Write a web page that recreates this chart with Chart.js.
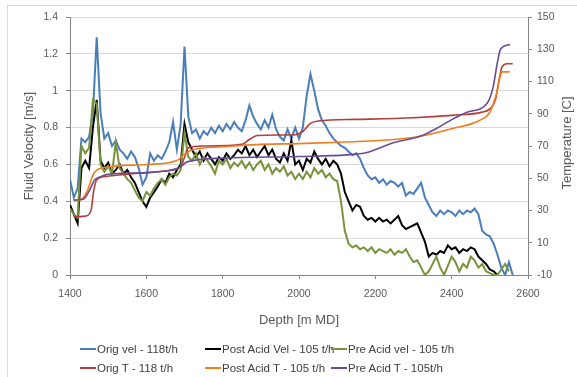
<!DOCTYPE html>
<html>
<head>
<meta charset="utf-8">
<script src="https://cdn.jsdelivr.net/npm/chart.js@4.4.0/dist/chart.umd.min.js"></script>
<style>
  body { margin: 0; background: #fff; }
  #wrap { position: relative; width: 577px; height: 377px; overflow: hidden; font-family: "Liberation Sans", Arial, sans-serif; }
  #frame { position: absolute; left: 7px; top: 5px; width: 600px; height: 400px; border-left: 1px solid #d9d9d9; border-top: 1px solid #d9d9d9; }
  canvas { position: absolute; left: 0; top: 0; }
  .leg { position: absolute; font-size: 11.5px; color: #404040; white-space: nowrap; line-height: 14px; }
  .leg i { display: inline-block; width: 16px; height: 2px; vertical-align: middle; margin-right: 1px; margin-top: -2px; }
</style>
</head>
<body>
<div id="wrap">
  <div id="frame"></div>
  <canvas id="chart" width="577" height="377"></canvas>
  <div id="legend"></div>
</div>
<script>
// velocity series share one depth grid, 10 m steps from 1400 to 2560
const velDepth = [];
for (let d = 1400; d <= 2560; d += 10) velDepth.push(d);

const origVel = [
  0.52, 0.42, 0.47, 0.74, 0.72, 0.75, 0.88, 1.29, 0.88, 0.74,
  0.77, 0.70, 0.73, 0.68, 0.66, 0.63, 0.67, 0.64, 0.58, 0.49,
  0.53, 0.66, 0.62, 0.65, 0.63, 0.67, 0.72, 0.83, 0.68, 0.82,
  1.24, 0.86, 0.77, 0.79, 0.74, 0.78, 0.76, 0.80, 0.77, 0.81,
  0.78, 0.82, 0.79, 0.83, 0.80, 0.78, 0.84, 0.92, 0.86, 0.82,
  0.79, 0.84, 0.80, 0.87, 0.79, 0.75, 0.73, 0.79, 0.74, 0.80,
  0.74, 0.80, 0.97, 1.09, 1.00, 0.90, 0.84, 0.81, 0.77, 0.74,
  0.72, 0.70, 0.69, 0.67, 0.65, 0.66, 0.63, 0.58, 0.54, 0.52,
  0.53, 0.50, 0.52, 0.49, 0.51, 0.50, 0.48, 0.50, 0.43, 0.45,
  0.44, 0.47, 0.50, 0.42, 0.38, 0.34, 0.32, 0.35, 0.33, 0.35,
  0.34, 0.32, 0.35, 0.33, 0.35, 0.34, 0.36, 0.33, 0.24, 0.22,
  0.21, 0.17, 0.11, 0.04, 0.00, 0.07, 0.00
];
const postVel = [
  0.38, 0.33, 0.28, 0.58, 0.62, 0.58, 0.80, 0.95, 0.62, 0.58,
  0.61, 0.55, 0.57, 0.60, 0.55, 0.57, 0.53, 0.50, 0.45, 0.40,
  0.37, 0.42, 0.45, 0.48, 0.52, 0.50, 0.55, 0.53, 0.57, 0.60,
  0.82, 0.72, 0.68, 0.64, 0.67, 0.62, 0.66, 0.63, 0.60, 0.64,
  0.62, 0.66, 0.63, 0.65, 0.68, 0.66, 0.70, 0.65, 0.68, 0.64,
  0.67, 0.70, 0.65, 0.68, 0.63, 0.61, 0.66, 0.62, 0.73, 0.60,
  0.62, 0.57, 0.63, 0.61, 0.67, 0.63, 0.60, 0.63, 0.59, 0.62,
  0.60, 0.55, 0.45, 0.40, 0.35, 0.38, 0.37, 0.32, 0.30, 0.31,
  0.29, 0.31, 0.29, 0.30, 0.28, 0.30, 0.32, 0.27, 0.25, 0.26,
  0.27, 0.28, 0.23, 0.18, 0.10, 0.12, 0.11, 0.13, 0.12, 0.16,
  0.14, 0.15, 0.12, 0.14, 0.13, 0.15, 0.14, 0.10, 0.08, 0.06,
  0.03, 0.02, 0.00, null, null, null, null
];
const preVel = [
  0.36, 0.33, 0.31, 0.70, 0.66, 0.69, 0.95, 0.93, 0.60, 0.56,
  0.59, 0.55, 0.72, 0.58, 0.55, 0.52, 0.50, 0.46, 0.42, 0.40,
  0.45, 0.43, 0.47, 0.50, 0.52, 0.49, 0.53, 0.55, 0.54, 0.57,
  0.77, 0.64, 0.62, 0.66, 0.60, 0.64, 0.62, 0.59, 0.55, 0.62,
  0.60, 0.63, 0.58, 0.61, 0.59, 0.62, 0.58, 0.61, 0.57, 0.60,
  0.62, 0.57, 0.60, 0.55, 0.58, 0.56, 0.59, 0.54, 0.56, 0.52,
  0.55, 0.52, 0.56, 0.53, 0.58, 0.55, 0.57, 0.53, 0.55, 0.52,
  0.51, 0.40, 0.24, 0.17, 0.15, 0.16, 0.14, 0.15, 0.13, 0.15,
  0.12, 0.14, 0.13, 0.12, 0.14, 0.11, 0.13, 0.12, 0.14, 0.10,
  0.07, 0.08, 0.04, 0.00, 0.02, 0.06, 0.10, 0.04, 0.00, 0.05,
  0.10, 0.07, 0.02, 0.06, 0.04, 0.10, 0.08, 0.04, 0.06, 0.02,
  0.01, 0.00, 0.00, 0.03, 0.06, 0.02, null
];

// temperature series, smooth, own depth points
const origTDepth = [1410, 1440, 1455, 1462, 1470, 1490, 1550, 1650, 1690, 1700, 1710, 1750, 1850, 1870, 1890, 1990, 2010, 2030, 2050, 2150, 2300, 2400, 2480, 2500, 2515, 2525, 2532, 2545, 2560];
const origT      = [26, 26.5, 30, 42, 49, 51, 52.5, 54.5, 57, 63, 69, 70, 71, 74, 76.5, 77, 79, 84, 85.5, 86.5, 87.5, 89, 91, 93, 99, 112, 119, 121, 121];
const postTDepth = [1410, 1430, 1445, 1460, 1470, 1500, 1600, 1680, 1700, 1720, 1800, 1900, 2000, 2125, 2250, 2317, 2405, 2474, 2500, 2518, 2528, 2532, 2552];
const postT      = [36, 37, 42, 52, 55, 57, 58.5, 61, 65, 67.5, 69.5, 71, 71.5, 72.5, 74, 76, 81, 86, 91, 103, 114, 116, 116];
const preTDepth  = [1410, 1435, 1450, 1465, 1480, 1500, 1600, 1680, 1695, 1705, 1800, 2000, 2125, 2178, 2247, 2317, 2361, 2405, 2440, 2493, 2509, 2520, 2528, 2553];
const preT       = [36.5, 37, 42, 49, 51, 52.5, 53.5, 56, 58, 60, 62.5, 63.5, 64.5, 66, 72, 76, 81, 87, 91, 96.5, 107, 122, 130, 133];

const labels = ['Orig vel - 118t/h', 'Post Acid Vel - 105 t/h', 'Pre Acid vel - 105 t/h', 'Orig T - 118 t/h', 'Post Acid T - 105 t/h', 'Pre Acid T - 105t/h'];
const colors = ['#4a7ebb', '#000000', '#77933c', '#b0403d', '#f07d1e', '#6b4c93'];

function pts(xs, ys) {
  return xs.map((x, i) => ({ x: x, y: ys[i] }));
}

// later series sit on top, like the original
function velSet(i, ys) {
  return { label: labels[i], data: pts(velDepth, ys), yAxisID: 'y', order: 6 - i, borderColor: colors[i], borderWidth: 2, pointRadius: 0, tension: 0 };
}
function tSet(i, xs, ys) {
  return { label: labels[i], data: pts(xs, ys), yAxisID: 'y2', order: 6 - i, borderColor: colors[i], borderWidth: 1.6, pointRadius: 0, cubicInterpolationMode: 'monotone' };
}

const fam = '"Liberation Sans", Arial, sans-serif';
const tickFont = { family: fam, size: 10.5 };
const titleFont = { family: fam, size: 13 };

// right-hand axis title reads bottom to top
const rightTitle = {
  id: 'rightTitle',
  afterDraw(chart) {
    const ctx = chart.ctx;
    const a = chart.chartArea;
    ctx.save();
    ctx.translate(567, (a.top + a.bottom) / 2 - 3);
    ctx.rotate(-Math.PI / 2);
    ctx.font = '13px ' + fam;
    ctx.fillStyle = '#595959';
    ctx.textAlign = 'center';
    ctx.textBaseline = 'middle';
    ctx.fillText('Temperature [C]', 0, 0);
    ctx.restore();
  }
};

new Chart(document.getElementById('chart'), {
  type: 'line',
  data: {
    datasets: [
      velSet(0, origVel),
      velSet(1, postVel),
      velSet(2, preVel),
      tSet(3, origTDepth, origT),
      tSet(4, postTDepth, postT),
      tSet(5, preTDepth, preT)
    ]
  },
  options: {
    responsive: false,
    animation: false,
    layout: { padding: { top: 17, left: 0, right: 0, bottom: 0 } },
    plugins: { legend: { display: false }, tooltip: { enabled: false } },
    scales: {
      x: {
        type: 'linear', min: 1400, max: 2600,
        ticks: { stepSize: 200, color: '#595959', font: tickFont, padding: 9, maxRotation: 0, callback: v => String(v) },
        grid: { drawOnChartArea: false, tickLength: 4, tickColor: '#868686' },
        border: { color: '#868686' },
        title: { display: true, text: 'Depth [m MD]', color: '#595959', font: titleFont, padding: { top: 4, bottom: 49 } },
        afterFit(s) { s.height = 102; }
      },
      y: {
        position: 'left', min: 0, max: 1.4,
        ticks: { stepSize: 0.2, color: '#595959', font: tickFont, padding: 8, callback: v => String(Math.round(v * 10) / 10) },
        grid: { color: '#d9d9d9', tickLength: 4, tickColor: '#868686' },
        border: { color: '#868686' },
        title: { display: true, text: 'Fluid Velocity [m/s]', color: '#595959', font: titleFont, padding: { top: 22, bottom: 0 } },
        afterFit(s) { s.width = 70; }
      },
      y2: {
        position: 'right', min: -10, max: 150,
        ticks: { stepSize: 20, color: '#595959', font: tickFont, padding: 5, callback: v => String(v) },
        grid: { drawOnChartArea: false, tickLength: 4, tickColor: '#868686' },
        border: { color: '#868686' },
        afterFit(s) { s.width = 49; }
      }
    }
  },
  plugins: [rightTitle]
});

// legend, two rows of three
const legPos = [[80, 342], [205, 342], [331, 342], [80, 361], [205, 361], [331, 361]];
const legend = document.getElementById('legend');
labels.forEach((t, i) => {
  const el = document.createElement('div');
  el.className = 'leg';
  el.style.left = legPos[i][0] + 'px';
  el.style.top = legPos[i][1] + 'px';
  el.innerHTML = '<i style="background:' + colors[i] + '"></i>' + t;
  legend.appendChild(el);
});
</script>
</body>
</html>
